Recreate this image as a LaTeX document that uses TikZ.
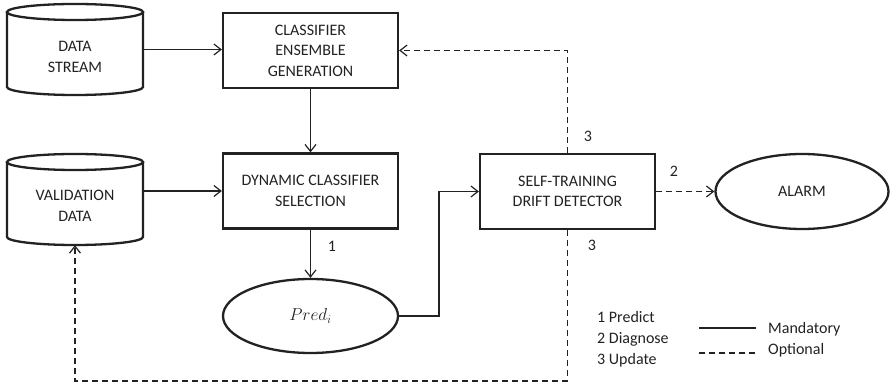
\documentclass[tikz,border=0pt]{standalone}
\usepackage{fontspec}
\setmainfont{Carlito}
\usetikzlibrary{arrows.meta,shapes.geometric}
\definecolor{ink}{HTML}{222222}
\newcommand\mycyl[5]{% cx, ytop, ybot, rx, ry
  \draw[boxline] (#1-#4,#2+#5) -- (#1-#4,#3-#5)
     arc[start angle=180,end angle=360,x radius=#4pt,y radius=#5pt] -- (#1+#4,#2+#5);
  \draw[boxline] (#1,#2+#5) ellipse[x radius=#4pt,y radius=#5pt];
}
\tikzset{
  boxline/.style={draw=ink,line width=2.3pt},
  box/.style={boxline,rectangle,minimum width=175pt,minimum height=75pt,inner sep=0pt,align=center,text=ink,font=\fontsize{16}{20.5}\selectfont},
  ell/.style={boxline,ellipse,inner sep=0pt,text=ink,font=\fontsize{16}{20}\selectfont},
  cylnode/.style={rectangle,minimum width=136pt,minimum height=91pt,inner sep=0pt},
  lbl/.style={text=ink,align=center,font=\fontsize{16}{21}\selectfont,inner sep=0pt},
  conn/.style={draw=ink,line width=1.2pt},
  arr/.style={conn,-{Straight Barb[length=7pt,width=11pt,line width=1.2pt]}},
  optline/.style={dash pattern=on 6pt off 4pt},
}
\begin{document}
\begin{tikzpicture}[x=1pt,y=-1pt]
\useasboundingbox (0,0) rectangle (891,387);
% cylinders
\node[cylnode] (ds) at (75,49.5) {};
\mycyl{75}{4}{95}{68}{8}
\node[lbl] (dstxt) at (75,57) {DATA\\STREAM};
\node[cylnode] (vd) at (75,199.5) {};
\mycyl{75}{154}{245}{68}{8}
\node[lbl] (vdtxt) at (75,206) {VALIDATION\\DATA};
% boxes
\node[box] (ceg) at (310.5,50.5) {CLASSIFIER\\ENSEMBLE\\GENERATION};
\node[box] (dcs) at (310.5,191) {DYNAMIC CLASSIFIER\\SELECTION};
\node[box] (stdd) at (567.5,191.5) {SELF-TRAINING\\DRIFT DETECTOR};
% ellipses
\node[ell,minimum width=175pt,minimum height=74pt] (pred) at (310.5,316) {\fontsize{17}{20}\selectfont$Pred_i$};
\node[ell,minimum width=173pt,minimum height=75pt] (alarm) at (802,191.5) {ALARM};
% connectors
\draw[arr] (ds.east) -- (ds.east -| ceg.west);
\draw[arr] (vd.east |- dcs.west) -- (dcs.west);
\draw[arr] (ceg.south) -- (dcs.north);
\draw[arr] (dcs.south) -- (pred.north);
\coordinate (bend) at (439,191.5);
\draw[arr] (pred.east) -| (bend) -- (stdd.west);
\draw[arr,optline] (stdd.north) |- (ceg.east);
\draw[arr,optline] (stdd.east) -- (alarm.west);
\coordinate (low) at (567.5,381);
\draw[arr,optline] (stdd.south) -- (low) -| (vd.south);
% labels
\node[lbl] (l1) at (332,246) {1};
\node[lbl] (l3a) at (588,136) {3};
\node[lbl] (l2) at (674,171) {2};
\node[lbl] (l3b) at (592,245) {3};
% legend
\node[lbl,anchor=base west] (lg1) at (597,322) {1 Predict};
\node[lbl,anchor=base west] (lg2) at (597,343) {2 Diagnose};
\node[lbl,anchor=base west] (lg3) at (597,364) {3 Update};
\coordinate (ma) at (699,328);
\coordinate (mb) at (756,328);
\coordinate (oa) at (699,353);
\coordinate (ob) at (756,353);
\draw[conn] (ma) -- (mb);
\draw[conn,optline] (oa) -- (ob);
\node[lbl,anchor=base west] (lgm) at (768,333) {Mandatory};
\node[lbl,anchor=base west] (lgo) at (768,354) {Optional};
\end{tikzpicture}
\end{document}
